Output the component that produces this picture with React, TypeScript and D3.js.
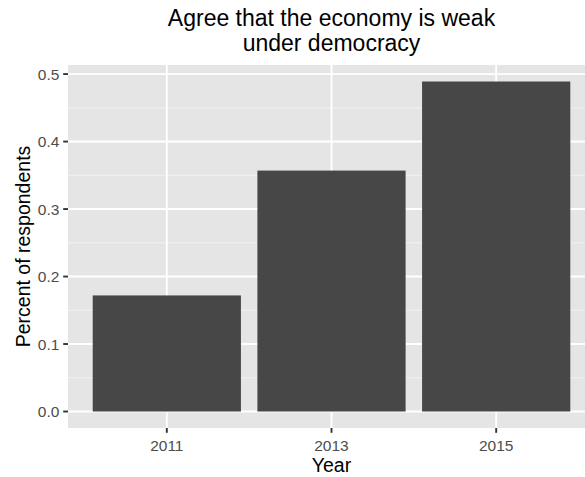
import React from "react";
import * as d3 from "d3";

const years = ["2011", "2013", "2015"];
const values = [0.172, 0.357, 0.489];
const yTicks = [0, 0.1, 0.2, 0.3, 0.4, 0.5];
const yMinorTicks = [0.05, 0.15, 0.25, 0.35, 0.45];
const titleLines = ["Agree that the economy is weak", "under democracy"];
const xTitle = "Year";
const yTitle = "Percent of respondents";

const W = 585;
const H = 477;
const panel = { left: 68, right: 595, top: 65, bottom: 428 };
const FONT = "'Liberation Sans', Arial, Helvetica, sans-serif";

export default function App() {
  const maxV = d3.max(values) as number;
  const pad = maxV * 0.05;
  const y = d3
    .scaleLinear()
    .domain([0 - pad, maxV + pad])
    .range([panel.bottom, panel.top]);
  const x = d3
    .scaleBand<string>()
    .domain(years)
    .range([panel.left, panel.right])
    .paddingInner(0.1)
    .paddingOuter(0.15);
  const center = (d: string) => (x(d) as number) + x.bandwidth() / 2;
  const cx = (panel.left + panel.right) / 2;
  const cy = (panel.top + panel.bottom) / 2;

  return (
    <svg
      width={W}
      height={H}
      style={{ position: "absolute", left: 0, top: 0, display: "block" }}
      fontFamily={FONT}
    >
      <rect x={0} y={0} width={W} height={H} fill="#ffffff" />
      <rect
        x={panel.left}
        y={panel.top}
        width={panel.right - panel.left}
        height={panel.bottom - panel.top}
        fill="#E5E5E5"
      />
      {yMinorTicks.map((t) => (
        <line
          key={"m" + t}
          x1={panel.left}
          x2={panel.right}
          y1={y(t)}
          y2={y(t)}
          stroke="#F2F2F2"
          strokeWidth={1}
        />
      ))}
      {yTicks.map((t) => (
        <line
          key={"g" + t}
          x1={panel.left}
          x2={panel.right}
          y1={y(t)}
          y2={y(t)}
          stroke="#ffffff"
          strokeWidth={1.9}
        />
      ))}
      {years.map((d) => (
        <line
          key={"gx" + d}
          x1={center(d)}
          x2={center(d)}
          y1={panel.top}
          y2={panel.bottom}
          stroke="#ffffff"
          strokeWidth={1.9}
        />
      ))}
      {years.map((d, i) => (
        <rect
          key={"b" + d}
          x={x(d)}
          y={y(values[i])}
          width={x.bandwidth()}
          height={y(0) - y(values[i])}
          fill="#474747"
        />
      ))}
      {yTicks.map((t) => (
        <g key={"yt" + t}>
          <line
            x1={panel.left - 4.8}
            x2={panel.left}
            y1={y(t)}
            y2={y(t)}
            stroke="#333333"
            strokeWidth={1.9}
          />
          <text
            x={panel.left - 8.6}
            y={y(t)}
            dy="0.36em"
            textAnchor="end"
            fontSize={15.5}
            fill="#4D4D4D"
          >
            {t.toFixed(1)}
          </text>
        </g>
      ))}
      {years.map((d) => (
        <g key={"xt" + d}>
          <line
            x1={center(d)}
            x2={center(d)}
            y1={panel.bottom}
            y2={panel.bottom + 4.8}
            stroke="#333333"
            strokeWidth={1.9}
          />
          <text
            x={center(d)}
            y={451}
            textAnchor="middle"
            fontSize={15.5}
            fill="#4D4D4D"
          >
            {d}
          </text>
        </g>
      ))}
      <text x={cx} y={472} textAnchor="middle" fontSize={19.5} fill="#000000">
        {xTitle}
      </text>
      <text
        transform={`translate(30,${cy}) rotate(-90)`}
        textAnchor="middle"
        fontSize={19.5}
        fill="#000000"
      >
        {yTitle}
      </text>
      {titleLines.map((l, i) => (
        <text
          key={"t" + i}
          x={cx}
          y={26 + i * 25}
          textAnchor="middle"
          fontSize={23}
          fill="#000000"
        >
          {l}
        </text>
      ))}
    </svg>
  );
}
